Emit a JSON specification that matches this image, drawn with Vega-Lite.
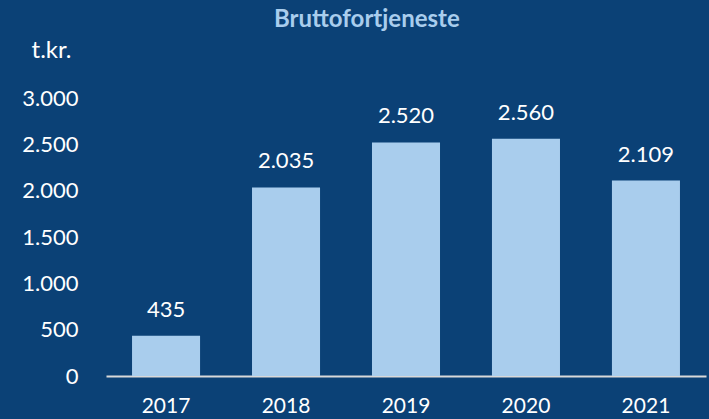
{
  "$schema": "https://vega.github.io/schema/vega-lite/v6.json",
  "width": 600,
  "height": 278,
  "autosize": {"type": "none"},
  "padding": {"left": 106, "top": 98, "right": 3, "bottom": 43},
  "background": "#0B4176",
  "config": {
    "view": {"stroke": null},
    "font": "Lato",
    "locale": {"number": {"decimal": ",", "thousands": ".", "grouping": [3], "currency": ["", " kr"]}}
  },
  "title": {
    "text": "Bruttofortjeneste",
    "color": "#A9CDED",
    "fontSize": 24,
    "fontWeight": "bold",
    "font": "Lato",
    "anchor": "start",
    "frame": "group",
    "dx": 168,
    "offset": 6
  },
  "data": {
    "values": [
      {"year": "2017", "value": 435},
      {"year": "2018", "value": 2035},
      {"year": "2019", "value": 2520},
      {"year": "2020", "value": 2560},
      {"year": "2021", "value": 2109}
    ]
  },
  "encoding": {
    "x": {
      "field": "year",
      "type": "nominal",
      "scale": {"paddingInner": 0.433, "paddingOuter": 0.217},
      "axis": {
        "title": null,
        "labelAngle": 0,
        "labelColor": "white",
        "labelFontSize": 21,
        "labelPadding": 19,
        "ticks": false,
        "domainColor": "#D9D9D9",
        "domainWidth": 2
      }
    },
    "y": {
      "field": "value",
      "type": "quantitative",
      "scale": {"domain": [0, 3000]},
      "axis": {
        "title": "t.kr.",
        "titleAngle": 0,
        "titleAlign": "center",
        "titleBaseline": "middle",
        "titleX": -55,
        "titleY": -48,
        "titleColor": "white",
        "titleFontSize": 24,
        "titleFontWeight": "normal",
        "values": [0, 500, 1000, 1500, 2000, 2500, 3000],
        "format": ",d",
        "labelColor": "white",
        "labelFontSize": 22,
        "labelPadding": 28,
        "ticks": false,
        "domain": false,
        "grid": false
      }
    }
  },
  "layer": [
    {"mark": {"type": "bar", "color": "#A9CDED"}},
    {
      "mark": {"type": "text", "color": "white", "fontSize": 22, "baseline": "bottom", "dy": -14},
      "encoding": {"text": {"field": "value", "type": "quantitative", "format": ",d"}}
    }
  ]
}
